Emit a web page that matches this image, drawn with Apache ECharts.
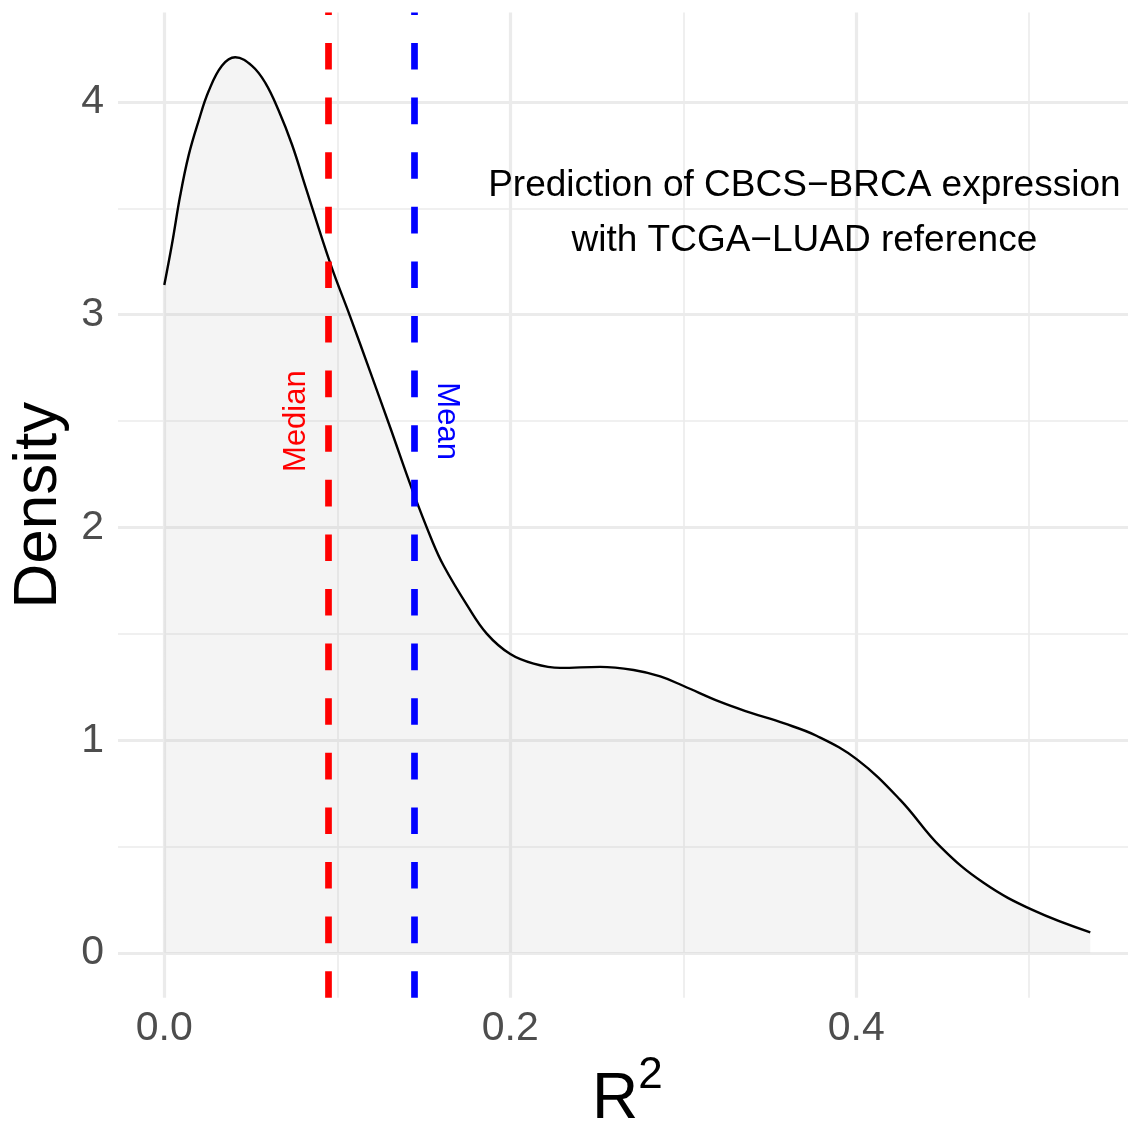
<!DOCTYPE html>
<html>
<head>
<meta charset="utf-8">
<script src="https://cdn.jsdelivr.net/npm/echarts@6/dist/echarts.min.js"></script>
<style>
  html, body { margin: 0; padding: 0; background: #ffffff; }
  #chart { width: 1128px; height: 1126px; }
</style>
</head>
<body>
<div id="chart"></div>
<script>
// ---- data ----
const densityX = [0, 0.0044, 0.0092, 0.0141, 0.0198, 0.0256, 0.0333, 0.041, 0.0507, 0.0584,
  0.0661, 0.0738, 0.0815, 0.096, 0.1075, 0.1191, 0.1306, 0.1432, 0.1547, 0.1615,
  0.175, 0.1865, 0.2, 0.2135, 0.2289, 0.252, 0.2713, 0.2867, 0.3002,
  0.3214, 0.3387, 0.358, 0.3773, 0.4004, 0.4254, 0.4486, 0.4736, 0.5025, 0.5353];
const densityY = [3.14, 3.33, 3.56, 3.75, 3.91, 4.05, 4.17, 4.21, 4.17, 4.09,
  3.96, 3.80, 3.605, 3.24, 2.99, 2.73, 2.47, 2.18, 1.94, 1.82,
  1.635, 1.50, 1.405, 1.36, 1.34, 1.345, 1.33, 1.30, 1.255,
  1.18, 1.13, 1.08, 1.02, 0.91, 0.72, 0.50, 0.33, 0.20, 0.097];
const medianValue = 0.095;
const meanValue = 0.1445;
const xTickValues = [0, 0.2, 0.4];
const xMinorValues = [0.1, 0.3, 0.5];
const yTickValues = [0, 1, 2, 3, 4];
const yMinorValues = [0.5, 1.5, 2.5, 3.5];
const annotationLines = ['Prediction of CBCS\u2212BRCA expression', 'with TCGA\u2212LUAD reference'];
const annotationPos = [0.37, 3.477];
const medianLabelPos = [0.0765, 2.5];
const meanLabelPos = [0.1632, 2.5];

// ggplot-like expanded ranges (5%)
const xDataMax = Math.max(...densityX);
const yDataMax = Math.max(...densityY);
const xPad = xDataMax * 0.05, yPad = yDataMax * 0.05;

const FONT = '"Liberation Sans", Arial, Helvetica, sans-serif';
const GRID_COLOR = '#EBEBEB';

const chart = echarts.init(document.getElementById('chart'), null, { renderer: 'canvas' });

const gridLines = []
  .concat(xTickValues.map(v => ({ xAxis: v, lineStyle: { width: 3.2 } })))
  .concat(xMinorValues.map(v => ({ xAxis: v, lineStyle: { width: 1.6 } })))
  .concat(yTickValues.map(v => ({ yAxis: v, lineStyle: { width: 3.2 } })))
  .concat(yMinorValues.map(v => ({ yAxis: v, lineStyle: { width: 1.6 } })));

const option = {
  backgroundColor: '#ffffff',
  animation: false,
  textStyle: { fontFamily: FONT },
  grid: { left: 118, top: 12.5, right: -8.6, bottom: 128.2, containLabel: false, outerBoundsMode: 'none' },
  xAxis: {
    type: 'value',
    min: -xPad,
    max: xDataMax + xPad,
    axisLine: { show: false },
    axisTick: { show: false },
    splitLine: { show: false },
    axisLabel: {
      customValues: xTickValues,
      formatter: v => v.toFixed(1),
      color: '#4D4D4D',
      fontSize: 41,
      fontFamily: FONT,
      margin: 10
    },
    name: '{r|R}{s|2}',
    nameLocation: 'middle',
    nameGap: 56,
    nameTextStyle: {
      color: '#000000',
      fontFamily: FONT,
      rich: {
        r: { fontSize: 64, lineHeight: 94, color: '#000', fontFamily: FONT },
        s: { fontSize: 44, verticalAlign: 'top', color: '#000', fontFamily: FONT }
      }
    }
  },
  yAxis: {
    type: 'value',
    min: -yPad,
    max: yDataMax + yPad,
    axisLine: { show: false },
    axisTick: { show: false },
    splitLine: { show: false },
    axisLabel: {
      customValues: yTickValues,
      formatter: v => String(v),
      color: '#4D4D4D',
      fontSize: 41,
      fontFamily: FONT,
      margin: 14
    },
    name: 'Density',
    nameLocation: 'middle',
    nameRotate: 90,
    nameGap: 44,
    nameTextStyle: { color: '#000000', fontSize: 62, fontFamily: FONT }
  },
  series: [
    {
      name: 'gridlines',
      type: 'line',
      data: [],
      silent: true,
      z: 1,
      markLine: {
        z: 1,
        silent: true,
        precision: 6,
        symbol: ['none', 'none'],
        label: { show: false },
        lineStyle: { color: GRID_COLOR, type: 'solid', width: 2 },
        emphasis: { disabled: true },
        data: gridLines,
        animation: false
      }
    },
    {
      name: 'density',
      type: 'line',
      z: 2,
      smooth: 0.4,
      showSymbol: false,
      symbol: 'none',
      silent: true,
      data: densityX.map((x, i) => [x, densityY[i]]),
      lineStyle: { color: '#000000', width: 2.4 },
      areaStyle: { color: 'rgba(190,190,190,0.25)' }
    },
    {
      name: 'vlines',
      type: 'line',
      data: [],
      z: 5,
      silent: true,
      markLine: {
        z: 5,
        silent: true,
        precision: 6,
        symbol: ['none', 'none'],
        label: { show: false },
        emphasis: { disabled: true },
        animation: false,
        data: [
          { xAxis: medianValue, lineStyle: { color: '#FF0000', width: 6.7, type: [26.6, 28] } },
          { xAxis: meanValue, lineStyle: { color: '#0000FF', width: 6.7, type: [26.6, 28] } }
        ]
      }
    },
    {
      name: 'labels',
      type: 'scatter',
      z: 6,
      silent: true,
      symbolSize: 0,
      itemStyle: { opacity: 1 },
      data: [
        {
          value: annotationPos,
          label: {
            show: true, position: 'inside',
            formatter: annotationLines.join('\n'),
            fontSize: 37, lineHeight: 55, color: '#000000', align: 'center', fontFamily: FONT
          }
        },
        {
          value: medianLabelPos,
          label: {
            show: true, position: 'inside', rotate: 90,
            formatter: 'Median', fontSize: 31, color: '#FF0000', fontFamily: FONT
          }
        },
        {
          value: meanLabelPos,
          label: {
            show: true, position: 'inside', rotate: -90,
            formatter: 'Mean', fontSize: 31, color: '#0000FF', fontFamily: FONT
          }
        }
      ]
    }
  ]
};

chart.setOption(option);
</script>
</body>
</html>
